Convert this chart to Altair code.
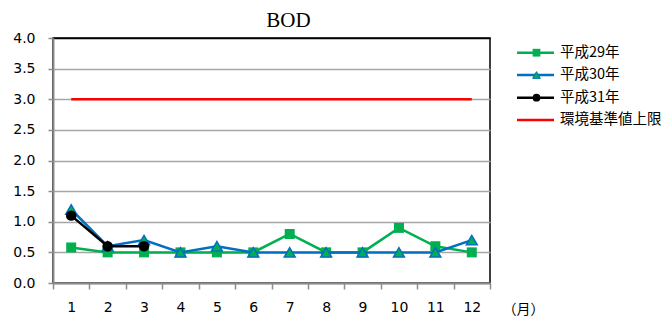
import altair as alt
import pandas as pd

months = list(range(1, 13))
h29 = [0.58, 0.5, 0.5, 0.5, 0.5, 0.5, 0.8, 0.5, 0.5, 0.9, 0.6, 0.5]
h30 = [1.2, 0.6, 0.7, 0.5, 0.6, 0.5, 0.5, 0.5, 0.5, 0.5, 0.5, 0.7]
h31_months = [1, 2, 3]
h31 = [1.1, 0.6, 0.6]
limit = [3.0] * 12

series_names = ["平成29年", "平成30年", "平成31年", "環境基準値上限"]
x_ticks = [m - 0.5 for m in months] + [12.5]
y_ticks = [0, 0.5, 1.0, 1.5, 2.0, 2.5, 3.0, 3.5, 4.0]

GREEN = "#00B050"
BLUE = "#0070C0"
BLACK = "#000000"
RED = "#FF0000"
GRAY = "#8C8C8C"

df29 = pd.DataFrame({"month": months, "value": h29})
df30 = pd.DataFrame({"month": months, "value": h30})
df31 = pd.DataFrame({"month": h31_months, "value": h31})
dflim = pd.DataFrame({"month": months, "value": limit})

x_enc = alt.X(
    "month:Q",
    scale=alt.Scale(domain=[0.5, 12.5], nice=False, zero=False),
    axis=alt.Axis(
        values=x_ticks,
        labelExpr="datum.value < 12 ? format(datum.value + 0.5, 'd') : ''",
        labelOffset=18.2,
        labelFlush=False,
        grid=False,
        tickSize=6,
        tickColor=GRAY,
        tickWidth=1.5,
        domainColor=GRAY,
        domainWidth=2,
        labelFont="DejaVu Sans",
        labelFontSize=14,
        labelColor="#000000",
        labelPadding=11,
        title="（月）",
        titleX=449,
        titleY=26,
        titleAlign="left",
        titleBaseline="middle",
        titleFont="Noto Sans CJK JP",
        titleFontSize=14,
        titleFontWeight="normal",
        titleColor="#000000",
    ),
)
y_enc = alt.Y(
    "value:Q",
    scale=alt.Scale(domain=[0, 4], nice=False, zero=True),
    axis=alt.Axis(
        values=y_ticks,
        format=".1f",
        grid=True,
        gridColor={"condition": {"test": "datum.value == 4", "value": "#000000"}, "value": "#A6A6A6"},
        gridWidth=1.5,
        tickSize=5,
        tickColor=GRAY,
        tickWidth=1.5,
        domainColor=GRAY,
        domainWidth=2,
        labelFont="DejaVu Sans",
        labelFontSize=14,
        labelColor="#000000",
        labelPadding=13,
        title=None,
    ),
)

def line_layer(df, color):
    return alt.Chart(df).mark_line(color=color, strokeWidth=2.5).encode(x=x_enc, y=y_enc)

lim = alt.Chart(dflim).mark_line(color=RED, strokeWidth=2.5).encode(x=x_enc, y=y_enc)
l29 = line_layer(df29, GREEN)
p29 = alt.Chart(df29).mark_point(shape="square", filled=True, color=GREEN, size=100, opacity=1).encode(x=x_enc, y=y_enc)
l30 = line_layer(df30, BLUE)
p30 = alt.Chart(df30).mark_point(shape="triangle-up", filled=True, fill=GREEN, stroke=BLUE, strokeWidth=1.5, size=120, opacity=1).encode(x=x_enc, y=y_enc)
l31 = line_layer(df31, BLACK)
p31 = alt.Chart(df31).mark_point(shape="circle", filled=True, color=BLACK, size=110, opacity=1).encode(x=x_enc, y=y_enc)

# legend (decoration)
one = pd.DataFrame({"k": [0]})
leg_y = [14.7, 37, 59.7, 82]
leg_colors = [GREEN, BLUE, BLACK, RED]
leg_shapes = ["square", "triangle-up", "circle", None]
legend_layers = []
for name, yy, col, shp in zip(series_names, leg_y, leg_colors, leg_shapes):
    legend_layers.append(
        alt.Chart(one).mark_rule(color=col, strokeWidth=2.5).encode(
            x=alt.value(464), x2=alt.value(501), y=alt.value(yy)
        )
    )
    if shp is not None:
        if shp == "triangle-up":
            mk = alt.Chart(one).mark_point(shape=shp, filled=True, fill=GREEN, stroke=BLUE, strokeWidth=1, size=60, opacity=1)
        else:
            mk = alt.Chart(one).mark_point(shape=shp, filled=True, color=col, size=60, opacity=1)
        legend_layers.append(mk.encode(x=alt.value(483.5), y=alt.value(yy)))
    legend_layers.append(
        alt.Chart(one).mark_text(
            text=name, align="left", baseline="middle", font="Noto Sans CJK JP",
            fontSize=14.5, color="#000000"
        ).encode(x=alt.value(507), y=alt.value(yy))
    )

chart = alt.layer(lim, l29, p29, l30, p30, l31, p31, *legend_layers).properties(
    width=437,
    height=245,
    padding={"left": 45, "top": 30, "right": 174, "bottom": 33},
    autosize=alt.AutoSizeParams(type="none"),
    title=alt.TitleParams(
        "BOD", font="Liberation Serif", fontSize=21, fontWeight="normal",
        color="#000000", anchor="middle", dx=17, offset=0
    ),
).configure_view(stroke="#000000", strokeWidth=1.5)

chart.save("out.html", embed_options={"renderer": "svg", "actions": False})
